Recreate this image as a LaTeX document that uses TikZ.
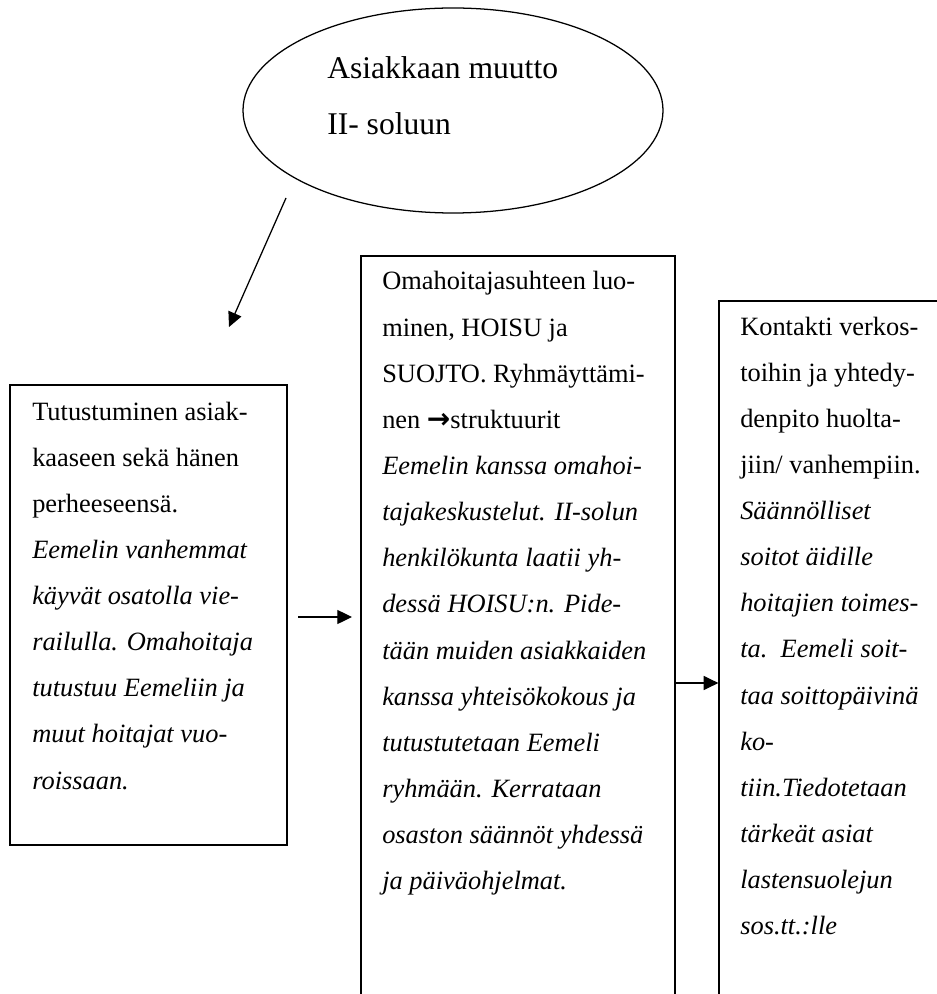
\documentclass[tikz,border=0pt]{standalone}
\usepackage{fontspec}
\setmainfont{Liberation Serif}
\newfontfamily\symfont{DejaVu Sans}
\usetikzlibrary{shapes.geometric,arrows.meta,fit}
% left-aligned block of lines with a fixed baseline distance; lines end with \cr
\newcommand\txtblock[2][34.6pt]{\vtop{\baselineskip=#1\lineskiplimit=-100pt\halign{##\hfil\cr#2\crcr}}}
\begin{document}
\begin{tikzpicture}[x=0.75pt,y=-0.75pt,
  frame/.style={draw, line width=0.95pt, inner sep=0pt},
  arr/.style={line width=0.95pt, -{Triangle[length=11pt,width=10.5pt]}},
  body/.style={anchor=base west, inner sep=0pt, font=\fontsize{19.8pt}{34.6pt}\selectfont}]
\path[use as bounding box, fill=white] (0,0) rectangle (936,994);

% start ellipse
\node[frame, ellipse, minimum width=315pt, minimum height=153.75pt] (goal) at (453,110.5) {};
\node[body, font=\fontsize{23.7pt}{42pt}\selectfont] (goaltext) at (327,79)
  {\txtblock[42pt]{Asiakkaan muutto\cr II- soluun}};

% step boxes (the last two run past the page edge)
\node[frame, fit={(10,385) (287,845)}] (lbox) {};
\node[frame, fit={(361,256) (675,1010)}] (mbox) {};
\node[frame, fit={(719,301) (960,1010)}] (rbox) {};

\node[body] (ltext) at (32,420) {\txtblock{%
Tutustuminen asiak-\cr
kaaseen sekä hänen\cr
perheeseensä.\cr
\itshape Eemelin vanhemmat\cr
\itshape käyvät osatolla vie-\cr
\itshape railulla. Omahoitaja\cr
\itshape tutustuu Eemeliin ja\cr
\itshape muut hoitajat vuo-\cr
\itshape roissaan.}};

\node[body] (mtext) at (382,290) {\txtblock{%
Omahoitajasuhteen luo-\cr
minen, HOISU ja\cr
SUOJTO. Ryhmäyttämi-\cr
nen {\symfont\bfseries\fontsize{21pt}{21pt}\selectfont →}struktuurit\cr
\itshape Eemelin kanssa omahoi-\cr
\itshape tajakeskustelut. II-solun\cr
\itshape henkilökunta laatii yh-\cr
\itshape dessä HOISU:n. Pide-\cr
\itshape tään muiden asiakkaiden\cr
\itshape kanssa yhteisökokous ja\cr
\itshape tutustutetaan Eemeli\cr
\itshape ryhmään. Kerrataan\cr
\itshape osaston säännöt yhdessä\cr
\itshape ja päiväohjelmat.}};

\node[body] (rtext) at (740,335) {\txtblock{%
Kontakti verkos-\cr
toihin ja yhtedy-\cr
denpito huolta-\cr
jiin/ vanhempiin.\cr
\itshape Säännölliset\cr
\itshape soitot äidille\cr
\itshape hoitajien toimes-\cr
\itshape ta.\ \ Eemeli soit-\cr
\itshape taa soittopäivinä\cr
\itshape ko-\cr
\itshape tiin.Tiedotetaan\cr
\itshape tärkeät asiat\cr
\itshape lastensuolejun\cr
\itshape sos.tt.:lle}};

% connectors
\coordinate (d0) at (286,198);
\coordinate (d1) at (229,327);
\draw[arr] (d0) -- (d1);
\coordinate (a1s) at (298,617);
\coordinate (a1e) at (352,617);
\draw[arr] (a1s) -- (a1e);
\coordinate (a2) at (0,683);
\draw[arr] (mbox.east |- a2) -- (rbox.west |- a2);
\end{tikzpicture}
\end{document}
